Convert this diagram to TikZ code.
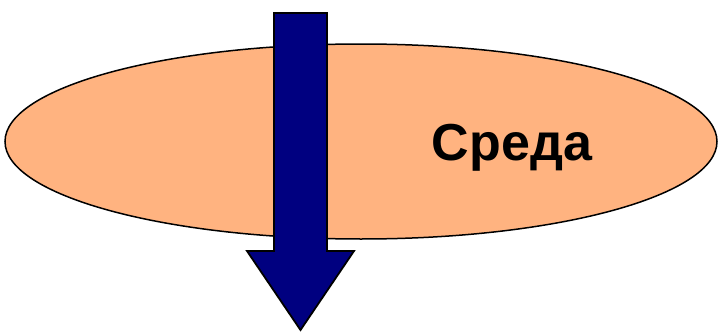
\documentclass[tikz,border=0pt]{standalone}
\usepackage{fontspec}
\setmainfont{Liberation Sans}
\usetikzlibrary{shapes.geometric}
\definecolor{envfill}{RGB}{255,179,128}
\definecolor{arrownavy}{RGB}{0,0,128}
\tikzset{
  envshape/.style={ellipse, draw=black, line width=1.5pt, fill=envfill, minimum width=712pt, minimum height=195pt, inner sep=0pt},
  bigarrow/.style={draw=black, line width=1.8pt, fill=arrownavy, line join=miter},
  lbl/.style={font=\bfseries\fontsize{52}{60}\selectfont, inner sep=0pt, anchor=base}
}
\begin{document}
\begin{tikzpicture}[x=1pt,y=-1pt]
\useasboundingbox (0,0) rectangle (721,332);
\node[envshape] (env) at (361,141.5) {};
\draw[bigarrow] (274,13) -- (327,13) -- (327,251) -- (354,251) -- (300.5,330) -- (247,251) -- (274,251) -- cycle;
\node[lbl] (sreda) at (512,160) {Среда};
\end{tikzpicture}
\end{document}
